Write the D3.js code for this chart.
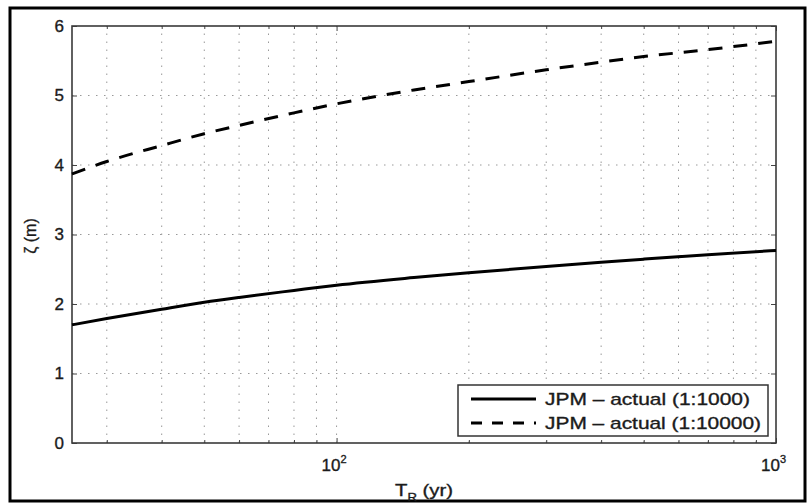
<!DOCTYPE html>
<html>
<head>
<meta charset="utf-8">
<script src="https://cdn.jsdelivr.net/npm/d3@7"></script>
<style>
    body { margin: 0; background: #fff; }
    svg text { font-family: "Liberation Sans", Arial, sans-serif; fill: #1b1b1b; stroke: #1b1b1b; stroke-width: 0.35px; }
</style>
</head>
<body>
<svg id="chart" width="808" height="504"></svg>
<script>
// return period (yr) and surge level zeta (m)
var returnPeriods = [25, 30, 40, 50, 60, 80, 100, 150, 200, 300, 400, 500, 700, 1000];
var zeta1000  = [1.70, 1.79, 1.925, 2.025, 2.095, 2.195, 2.27, 2.38, 2.45, 2.54, 2.60, 2.645, 2.71, 2.77];
var zeta10000 = [3.87, 4.05, 4.28, 4.45, 4.57, 4.75, 4.88, 5.08, 5.20, 5.37, 5.48, 5.56, 5.66, 5.78];

var seriesNames = ["JPM \u2013 actual (1:1000)", "JPM \u2013 actual (1:10000)"];
var legendWidths = [205, 216];
var yTicks = [0, 1, 2, 3, 4, 5, 6];
var xMajor = [100, 1000];
var xMajorExp = ["2", "3"];
var xMinor = [30, 40, 50, 60, 70, 80, 90, 200, 300, 400, 500, 600, 700, 800, 900];

var svg = d3.select("#chart");
var margin = {top: 26, right: 32, bottom: 61, left: 72};
var W = 808, H = 504;

var x = d3.scaleLog().domain([25, 1000]).range([margin.left, W - margin.right]);
var y = d3.scaleLinear().domain([0, 6]).range([H - margin.bottom, margin.top]);

// outer frame
svg.append("rect")
    .attr("x", 10).attr("y", 8)
    .attr("width", 795).attr("height", 493)
    .style("fill", "none")
    .style("stroke", "#000")
    .style("stroke-width", 3);

// grid
var grid = svg.append("g").attr("class", "grid")
    .style("stroke", "#999")
    .style("stroke-width", 1)
    .style("stroke-dasharray", "1.5,6.5");

grid.selectAll("line.v")
    .data(xMinor.concat([100]))
    .enter().append("line")
    .attr("x1", function(d) { return x(d); })
    .attr("x2", function(d) { return x(d); })
    .attr("y1", y(0)).attr("y2", y(6));

grid.selectAll("line.h")
    .data(yTicks.slice(1, -1))
    .enter().append("line")
    .attr("x1", x(25)).attr("x2", x(1000))
    .attr("y1", function(d) { return y(d); })
    .attr("y2", function(d) { return y(d); });

// ticks on all four sides, pointing inward
function styleAxis(g) {
    g.select(".domain").remove();
    g.selectAll(".tick line").style("stroke", "#444");
    g.selectAll(".tick text").style("font-size", "17px").style("fill", "#1b1b1b");
}

svg.append("g")
    .attr("transform", "translate(" + margin.left + ",0)")
    .call(d3.axisLeft(y).tickValues(yTicks).tickSizeInner(-5).tickSizeOuter(0).tickPadding(8).tickFormat(d3.format("d")))
    .call(styleAxis);

svg.append("g")
    .attr("transform", "translate(" + (W - margin.right) + ",0)")
    .call(d3.axisRight(y).tickValues(yTicks).tickSizeInner(-5).tickSizeOuter(0).tickFormat(""))
    .call(styleAxis);

svg.append("g")
    .attr("transform", "translate(0," + y(0) + ")")
    .call(d3.axisBottom(x).tickValues(xMajor).tickSizeInner(-5).tickSizeOuter(0).tickFormat(""))
    .call(styleAxis);

svg.append("g")
    .attr("transform", "translate(0," + y(0) + ")")
    .call(d3.axisBottom(x).tickValues(xMinor).tickSizeInner(-3).tickSizeOuter(0).tickFormat(""))
    .call(styleAxis);

svg.append("g")
    .attr("transform", "translate(0," + y(6) + ")")
    .call(d3.axisTop(x).tickValues(xMajor).tickSizeInner(-5).tickSizeOuter(0).tickFormat(""))
    .call(styleAxis);

svg.append("g")
    .attr("transform", "translate(0," + y(6) + ")")
    .call(d3.axisTop(x).tickValues(xMinor).tickSizeInner(-3).tickSizeOuter(0).tickFormat(""))
    .call(styleAxis);

// 10^n labels
var xl = svg.selectAll("text.xlab")
    .data(xMajor)
    .enter().append("text")
    .attr("class", "xlab")
    .attr("x", function(d) { return x(d) - 15; })
    .attr("y", y(0) + 28)
    .style("font-size", "17px");
xl.append("tspan").text("10");
xl.append("tspan")
    .attr("dy", -8)
    .style("font-size", "11px")
    .text(function(d, i) { return xMajorExp[i]; });

// plot box
svg.append("rect")
    .attr("x", x(25)).attr("y", y(6))
    .attr("width", x(1000) - x(25))
    .attr("height", y(0) - y(6))
    .style("fill", "none")
    .style("stroke", "#3a3a3a")
    .style("stroke-width", 1.6);

// curves
var line = d3.line()
    .x(function(d) { return x(d[0]); })
    .y(function(d) { return y(d[1]); })
    .curve(d3.curveMonotoneX);

var series = [zeta1000, zeta10000];
var dashes = [null, "14,11"];

series.forEach(function(vals, k) {
    svg.append("path")
        .datum(returnPeriods.map(function(t, i) { return [t, vals[i]]; }))
        .attr("d", line)
        .style("fill", "none")
        .style("stroke", "#000")
        .style("stroke-width", 3)
        .style("stroke-dasharray", dashes[k]);
});

// legend
var leg = svg.append("g");
leg.append("rect")
    .attr("x", 458).attr("y", 385)
    .attr("width", 310).attr("height", 51)
    .style("fill", "#fff")
    .style("stroke", "#333")
    .style("stroke-width", 1.5);

seriesNames.forEach(function(name, k) {
    var ly = 399 + k * 24;
    leg.append("line")
        .attr("x1", 471).attr("x2", 536)
        .attr("y1", ly).attr("y2", ly)
        .style("stroke", "#000")
        .style("stroke-width", 3)
        .style("stroke-dasharray", k ? "11,10" : null);
    leg.append("text")
        .attr("x", 545).attr("y", ly + 6)
        .attr("textLength", legendWidths[k])
        .attr("lengthAdjust", "spacingAndGlyphs")
        .style("font-size", "17px")
        .text(name);
});

// axis titles
var xt = svg.append("text")
    .attr("x", 395).attr("y", 496)
    .attr("textLength", 58)
    .attr("lengthAdjust", "spacingAndGlyphs")
    .style("font-size", "17px");
xt.append("tspan").text("T");
xt.append("tspan").attr("dy", 5).style("font-size", "11px").text("R");
xt.append("tspan").attr("dy", -5).text(" (yr)");

svg.append("text")
    .attr("transform", "translate(36,236) rotate(-90)")
    .attr("text-anchor", "middle")
    .style("font-size", "16px")
    .text("\u03b6 (m)");
</script>
</body>
</html>
